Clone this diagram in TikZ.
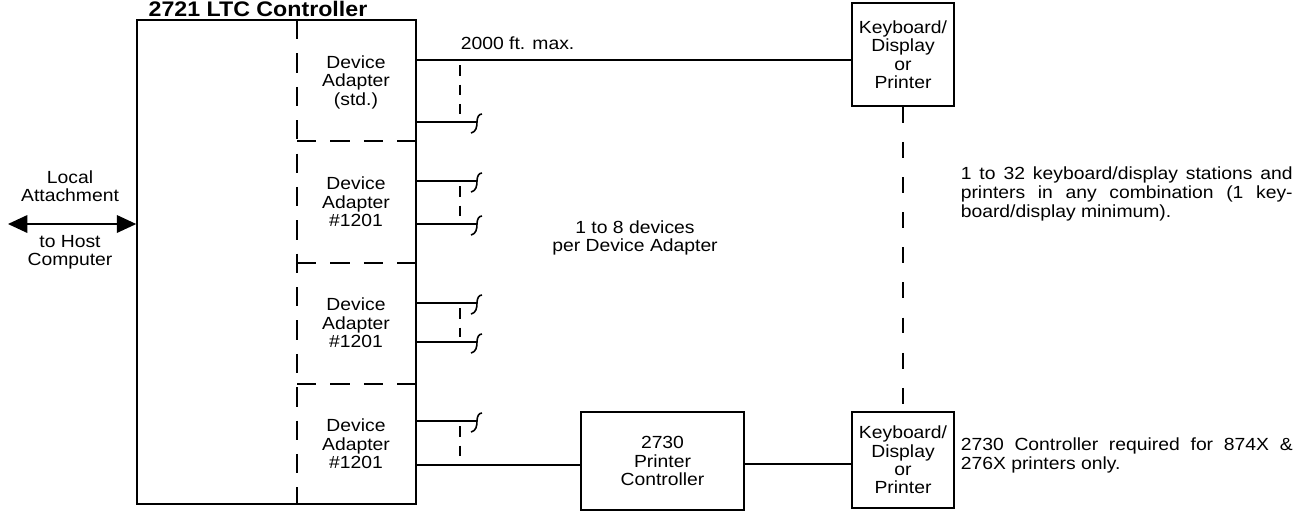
\documentclass[tikz,border=0pt]{standalone}
\usepackage{fontspec}
\setmainfont{Liberation Sans}[FakeStretch=1.1]
\usetikzlibrary{arrows.meta}
\begin{document}
\begin{tikzpicture}[x=0.02cm,y=-0.02cm,line width=0.9pt,
    lbl/.style={align=center,inner sep=0pt,font=\fontsize{10}{10.5}\selectfont},
    unit/.style={draw,inner sep=0pt},
    split/.style={dash pattern=on 11pt off 8pt},
    tap/.style={dash pattern=on 6pt off 5pt,shorten <=3pt,shorten >=3pt},
    chain/.style={dash pattern=on 9pt off 11pt}]
  \useasboundingbox (0,0) rectangle (1306,512);
  % 2721 controller
  \node[unit,minimum width=5.58cm,minimum height=9.68cm] (ltc) at (276.5,262){};
  \node[anchor=base west,font=\fontsize{12}{12}\bfseries] (title) at (142,16){2721 LTC Controller};
  \draw[split] (297,20)--(297,504);
  \foreach \y in {141,263,384}
    \draw[split] (297,\y)--(ltc.east |- 0,\y);
  \node[lbl] (da1) at (356,82){Device\\Adapter\\(std.)};
  \node[lbl] (da2) at (356,202){Device\\Adapter\\\#1201};
  \node[lbl] (da3) at (356,323){Device\\Adapter\\\#1201};
  \node[lbl] (da4) at (356,444){Device\\Adapter\\\#1201};
  % host side
  \coordinate (host) at (8,224);
  \draw[{Triangle[length=11pt,width=10pt]}-{Triangle[length=11pt,width=10pt]}] (host)--(ltc.west |- host);
  \node[lbl] (local) at (70,186){Local\\Attachment};
  \node[lbl] (tohost) at (70,252){to Host\\Computer};
  % stations
  \node[unit,minimum width=2.04cm,minimum height=2.06cm,lbl] (kb1) at (903,54.5){Keyboard/\\Display\\or\\Printer};
  \node[unit,minimum width=2.04cm,minimum height=1.92cm,lbl] (kb2) at (903,460){Keyboard/\\Display\\or\\Printer};
  \node[unit,minimum width=3.26cm,minimum height=1.96cm,lbl] (pc) at (662.5,461){2730\\Printer\\Controller};
  \draw (ltc.east |- 0,60)--(kb1.west |- 0,60);
  \draw (ltc.east |- 0,465)--(pc.west |- 0,465);
  \draw (pc.east |- 0,464)--(kb2.west |- 0,464);
  \draw[chain] (kb1.south)--(kb2.north);
  % cut-off lines
  \foreach \y in {122,181,224,303,342,421}{
    \draw (ltc.east |- 0,\y)--(477,\y);
    \draw (471,\y+11) .. controls (476,\y+10) and (477,\y+5) .. (477,\y)
      .. controls (477,\y-5) and (479,\y-8) .. (482,\y-8);
  }
  \draw[tap] (460,60)--(460,122);
  \draw[tap] (460,181)--(460,224);
  \draw[tap] (460,303)--(460,342);
  \draw[tap] (460,421)--(460,465);
  % notes
  \node[lbl,anchor=west] (max) at (460,43){2000 ft. max.};
  \node[lbl] (per) at (635,238){1 to 8 devices\\per Device Adapter};
  \node[lbl,align=left,anchor=west,font=\fontsize{10}{10.8}\selectfont] (mix) at (960,194)
    {\makebox[6.64cm][s]{1 to 32 keyboard/display stations and}\\
     \makebox[6.64cm][s]{printers in any combination (1 key-}\\
     board/display minimum).};
  \node[lbl,align=left,anchor=west,font=\fontsize{10}{10.8}\selectfont] (req) at (960,455)
    {\makebox[6.64cm][s]{2730 Controller required for 874X \&}\\
     276X printers only.};
\end{tikzpicture}
\end{document}
